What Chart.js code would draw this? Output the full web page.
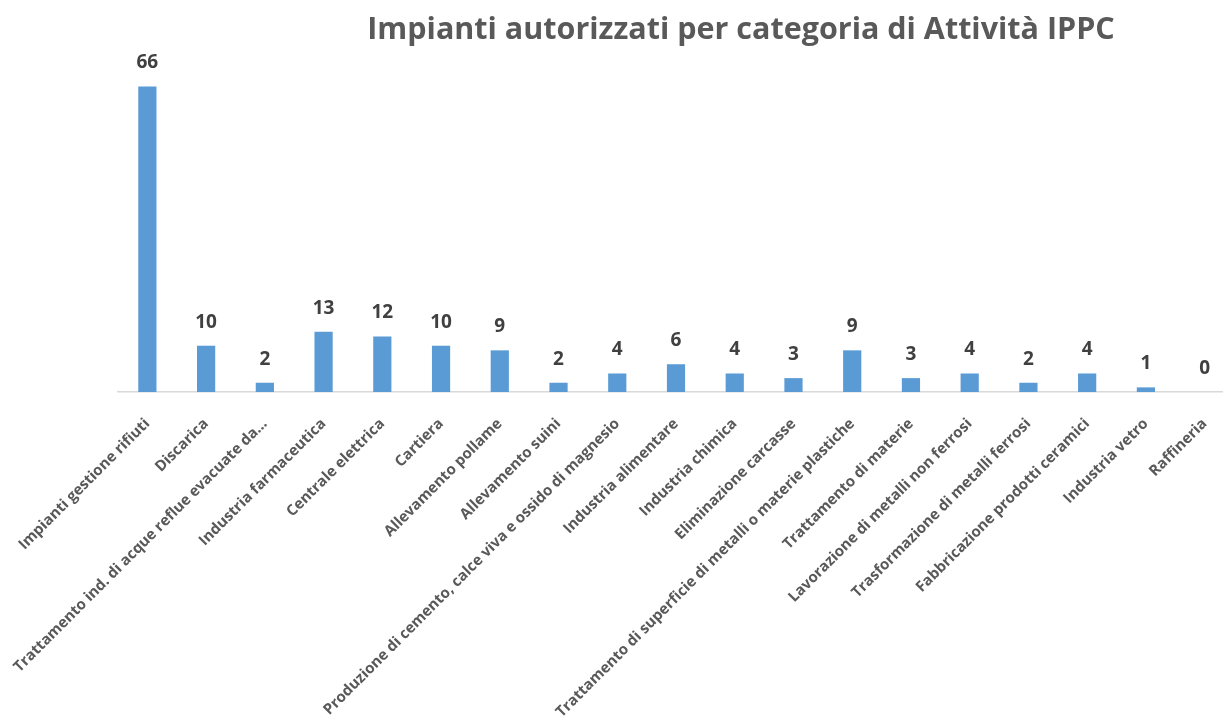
<!DOCTYPE html>
<html>
<head>
<meta charset="utf-8">
<script src="https://cdn.jsdelivr.net/npm/chart.js@4/dist/chart.umd.min.js"></script>
<style>
  html, body { margin: 0; padding: 0; background: #fff; overflow: hidden; }
  #wrap { position: relative; width: 1234px; height: 720px; }
</style>
</head>
<body>
<div id="wrap"><canvas id="c"></canvas></div>
<script>
const chartTitle = "Impianti autorizzati per categoria di Attività IPPC";
const categories = [
  "Impianti gestione rifiuti",
  "Discarica",
  "Trattamento ind. di acque reflue evacuate da...",
  "Industria farmaceutica",
  "Centrale elettrica",
  "Cartiera",
  "Allevamento pollame",
  "Allevamento suini",
  "Produzione di cemento, calce viva e ossido di magnesio",
  "Industria alimentare",
  "Industria chimica",
  "Eliminazione carcasse",
  "Trattamento di superficie di metalli o materie plastiche",
  "Trattamento di materie",
  "Lavorazione di metalli non ferrosi",
  "Trasformazione di metalli ferrosi",
  "Fabbricazione prodotti ceramici",
  "Industria vetro",
  "Raffineria"
];
const impianti = [66, 10, 2, 13, 12, 10, 9, 2, 4, 6, 4, 3, 9, 3, 4, 2, 4, 1, 0];

const valueLabels = {
  id: 'valueLabels',
  afterDatasetsDraw(chart) {
    const ctx = chart.ctx;
    const meta = chart.getDatasetMeta(0);
    ctx.save();
    ctx.font = 'bold 19px "Open Sans", sans-serif';
    ctx.fillStyle = '#404040';
    ctx.textAlign = 'center';
    ctx.textBaseline = 'bottom';
    meta.data.forEach((bar, i) => {
      ctx.fillText(String(impianti[i]), bar.x, bar.y - 14);
    });
    ctx.restore();
  }
};

const titlePlugin = {
  id: 'titlePlugin',
  afterDraw(chart) {
    const ctx = chart.ctx;
    ctx.save();
    ctx.font = 'bold 30.5px "Open Sans", sans-serif';
    ctx.fillStyle = '#595959';
    ctx.textAlign = 'center';
    ctx.textBaseline = 'middle';
    ctx.fillText(chartTitle, 741, 30);
    ctx.restore();
  }
};

new Chart(document.getElementById('c'), {
  type: 'bar',
  data: {
    labels: categories,
    datasets: [{
      data: impianti,
      backgroundColor: '#5B9BD5',
      barPercentage: 0.62,
      categoryPercentage: 0.5
    }]
  },
  options: {
    responsive: true,
    maintainAspectRatio: false,
    animation: false,
    layout: { padding: { top: 68, left: 118, right: 0, bottom: 0 } },
    plugins: {
      legend: { display: false },
      title: { display: false },
      tooltip: { enabled: false }
    },
    scales: {
      x: {
        grid: { display: false, drawTicks: false },
        border: { display: true, color: '#d9d9d9', width: 1.5 },
        ticks: {
          autoSkip: false,
          maxRotation: 45,
          minRotation: 45,
          padding: 23,
          color: '#595959',
          font: { family: '"Open Sans", sans-serif', size: 15, weight: 'bold' }
        },
        afterFit(scale) {
          scale.height = 328;
          scale.paddingLeft = 0;
          scale.paddingRight = 0;
        }
      },
      y: {
        display: false,
        min: 0,
        max: 70
      }
    }
  },
  plugins: [valueLabels, titlePlugin]
});
</script>
</body>
</html>
